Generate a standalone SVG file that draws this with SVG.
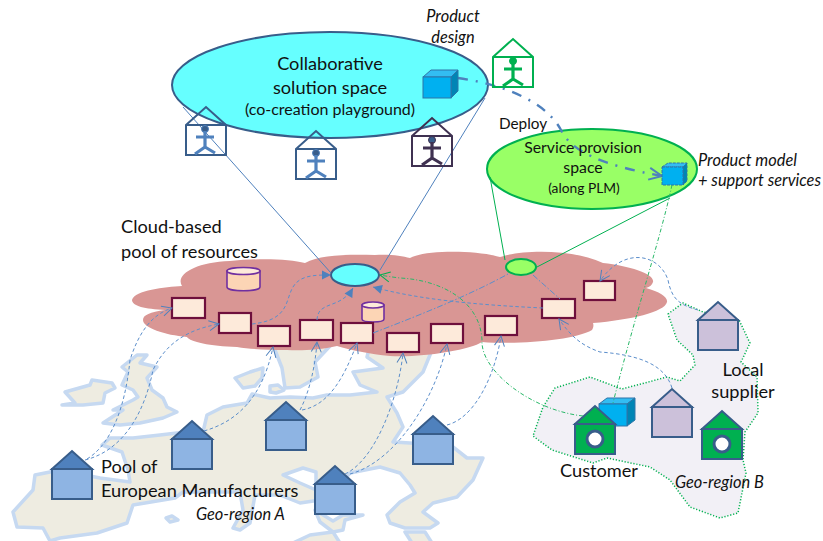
<svg xmlns="http://www.w3.org/2000/svg" width="823" height="541" viewBox="0 0 823 541">
<style>
text{font-family:Lato,"Open Sans","Liberation Sans",sans-serif;fill:#111}
.t18{font-size:18.2px}.t16{font-size:15.8px}.t15{font-size:15.3px}.t14{font-size:16px}.t13{font-size:13.8px}
.i{font-style:italic;font-size:16.4px}.m{text-anchor:middle}
.land{fill:#eeece1;stroke:#c6d9f1;stroke-width:3.5;stroke-linejoin:round}
.sea{fill:#fff;stroke:#c6d9f1;stroke-width:3.5;stroke-linejoin:round}
.res{fill:#fdeada;stroke:#6e0f3c;stroke-width:2.2}
.cyl{fill:#fcd5b5;stroke:#7030a0;stroke-width:1.6}
.cylt{fill:#fdeada;stroke:#7030a0;stroke-width:1.6}
.hb{stroke:#385d8a;stroke-width:2;stroke-linejoin:miter}
.fr{fill:#4f81bd}.fb{fill:#8eb4e3}.pb{fill:#ccc1da}.gb{fill:#00b050}
.ph{fill:none;stroke-width:2}
.pl{fill:none;stroke-width:3.2}
.c{fill:none}
.dash{stroke:#5b8ecb;stroke-width:1;stroke-dasharray:3.500 2.500}
.dd{stroke:#5b8ecb;stroke-width:1;stroke-dasharray:6 2 1.500 2}
.thin{stroke:#4f81bd;stroke-width:1}
.gl{stroke:#00b050;stroke-width:1}
.gd{stroke:#28b868;stroke-width:1;stroke-dasharray:4 2 1 2}
.dep{stroke:#4f81bd;stroke-width:2.400;stroke-dasharray:10 8 2 8}
</style>
<defs>
<marker id="o" markerUnits="userSpaceOnUse" markerWidth="14" markerHeight="14" refX="11" refY="7" orient="auto"><path d="M1,2 L11,7 L1,12" fill="none" stroke="#4f81bd" stroke-width="1"/></marker>
<marker id="f" markerUnits="userSpaceOnUse" markerWidth="12" markerHeight="12" refX="10" refY="6" orient="auto"><path d="M1,1.500 L10,6 L1,10.500Z" fill="#4f81bd"/></marker>
<marker id="g" markerUnits="userSpaceOnUse" markerWidth="14" markerHeight="14" refX="11" refY="7" orient="auto"><path d="M1,2 L11,7 L1,12" fill="none" stroke="#00b050" stroke-width="1"/></marker>
<marker id="d" markerUnits="userSpaceOnUse" markerWidth="18" markerHeight="18" refX="15" refY="9" orient="auto"><path d="M2,3 L15,9 L2,15" fill="none" stroke="#4f81bd" stroke-width="2"/></marker>
<g id="fh"><path class="hb fb" d="M-20,18H20V48H-20Z"/><path class="hb fr" d="M-20,18L0,0L20,18Z"/></g>
<g id="sh"><path class="hb pb" d="M-20,18H20V48H-20Z"/><path class="hb pb" d="M-20,18L0,0L20,18Z"/></g>
<g id="ch"><path class="hb gb" d="M-20,18H20V48H-20Z"/><path class="hb gb" d="M-20,18L0,0L20,18Z"/><circle cy="33" r="8" fill="#fff" stroke="#385d8a" stroke-width="3"/></g>
<g id="pers"><path class="ph" d="M-20,18L0,0L20,18V48H-20Z M-20,18H20"/></g>
<g id="fig"><circle cy="22" r="3.500"/><path class="pl" d="M-9,30H9M0,24V40L-10,47M0,40L10,46"/></g>
</defs>

<g id="map">
<path class="land" d="M35,475L60,470L100,478L130,482L128,470L122,452L102,445L110,438L133,438L160,435L177,433L203,432L207,415L223,407L247,403L252,394L270,398L290,397L313,398L327,395L350,395L377,392L360,385L353,372L383,368L367,357L370,345L432,350L423,372L403,392L387,397L397,413L403,427L393,442L410,443L453,447L467,458L483,458L473,480L457,497L433,503L423,512L438,523L430,528L405,528L390,523L387,515L400,502L415,493L410,485L400,473L380,467L350,473L335,490L320,500L300,503L280,495L255,495L250,523L240,530L233,528L243,510L240,492L183,492L175,498L133,505L127,523L97,533L60,538L50,541L43,528L17,527L13,512L33,490Z"/>
<path class="land" d="M137,355L147,355L140,363L157,367L147,378L152,390L163,398L167,407L177,412L163,418L140,423L120,425L103,423L123,410L113,410L133,400L138,397L133,390L122,385L128,372L122,367Z"/>
<path class="land" d="M62,405L75,403L65,392L90,385L92,380L112,383L115,388L105,393L103,403L83,405Z"/>
<path class="land" d="M273,345L282,368L285,388L300,387L318,377L315,362L330,346Z"/>
<path class="land" d="M235,378L250,372L263,368L262,378L255,386L243,388Z"/>
<path class="land" d="M270,386L278,385L284,390L276,393L270,392Z"/>
<path class="sea" d="M283,475L303,468L316,472L316,490L300,483Z"/>
<path class="land" d="M315,510L333,521L343,515L363,515L345,520L343,530L333,532L320,522Z"/>
<path class="land" d="M293,543L310,535L333,532L340,543Z"/>
<path class="land" d="M405,532L425,532L432,543H412Z"/>
<path class="land" d="M166,518L172,516L178,520L170,522Z" stroke-width="2.500"/>
</g>

<path id="region-b" fill="#f2f0f6" stroke="#00b050" stroke-width="1.500" stroke-dasharray="1.200 1.800" stroke-linejoin="round" d="M668,314L683,303L703,312L739,320L750,343L741,362L757,377L758,413L745,432L743,460L746,473L738,513L720,518L690,507L670,480L650,467L607,458L593,463L552,450L533,436L543,407L555,388L590,377L622,389L667,377L680,381L695,365L693,355L677,340Z"/>

<path id="cloud" fill="#d99694" d="M132,300C135,290 165,287 182,286C175,275 195,262 230,261C260,258 290,259 305,263C320,255 345,254 375,255C390,254 402,256 410,258C425,250 475,250 500,257C520,250 570,248 603,263C630,266 655,274 653,282C652,285 650,287 646,288C660,292 668,297 667,302C665,312 630,320 593,323C594,326 593,328 592,330C575,340 520,345 482,342C470,350 420,358 390,356C370,354 350,350 337,346C320,350 300,351 287,350C265,350 250,349 237,347C210,346 190,342 187,337C165,335 143,328 143,320C143,315 150,312 165,310C145,309 132,306 132,300Z"/>

<g id="big-ellipse"><ellipse cx="330" cy="85" rx="158" ry="53" fill="#66ffff" stroke="#385d8a" stroke-width="2"/></g>
<g id="green-ellipse"><ellipse cx="592" cy="169" rx="105" ry="40" fill="#99ff66" stroke="#00b050" stroke-width="2"/></g>
<g id="cyan-node"><ellipse cx="355" cy="275" rx="24" ry="11" fill="#66ffff" stroke="#385d8a" stroke-width="2"/></g>
<g id="lime-node"><ellipse cx="521" cy="267" rx="15" ry="8" fill="#99ff66" stroke="#00b050" stroke-width="2"/></g>

<g id="cyl1"><path class="cyl" d="M227,271V287C227,292 260,292 260,287V271Z"/><ellipse class="cylt" cx="243.500" cy="271" rx="16.500" ry="3.500"/></g>
<g id="cyl2"><path class="cyl" d="M362,305V319C362,323 384,323 384,319V305Z"/><ellipse class="cylt" cx="373" cy="305" rx="11" ry="3"/></g>

<g id="r1"><rect class="res" x="172" y="298" width="33" height="20"/></g>
<g id="r2"><rect class="res" x="219" y="313" width="32" height="20"/></g>
<g id="r3"><rect class="res" x="258" y="326" width="32" height="20"/></g>
<g id="r4"><rect class="res" x="300" y="320" width="33" height="20"/></g>
<g id="r5"><rect class="res" x="341" y="323" width="32" height="20"/></g>
<g id="r6"><rect class="res" x="387" y="333" width="32" height="19"/></g>
<g id="r7"><rect class="res" x="431" y="324" width="32" height="19"/></g>
<g id="r8"><rect class="res" x="485" y="316" width="32" height="19"/></g>
<g id="r9"><rect class="res" x="542" y="299" width="33" height="19"/></g>
<g id="r10"><rect class="res" x="584" y="281" width="31" height="19"/></g>

<g id="house-a1"><use href="#fh" x="72" y="451"/></g>
<g id="house-a2"><use href="#fh" x="192" y="421"/></g>
<g id="house-a3"><use href="#fh" x="286" y="402"/></g>
<g id="house-a4"><use href="#fh" x="335" y="466"/></g>
<g id="house-a5"><use href="#fh" x="433" y="416"/></g>
<g id="house-s1"><use href="#sh" x="718" y="302"/></g>
<g id="house-s2"><use href="#sh" x="672" y="389"/></g>

<g id="cube-customer"><path d="M599,404L607,398H635L627,404Z" fill="#33bdf2" stroke="#2e75a8"/><path d="M627,404L635,398V420L627,426Z" fill="#0085b5" stroke="#2e75a8"/><rect x="599" y="404" width="28" height="22" fill="#00b0f0" stroke="#2e75a8"/></g>
<g id="house-c1"><use href="#ch" x="595" y="406"/></g>
<g id="house-c2"><use href="#ch" x="722" y="411"/></g>

<g id="connectors" class="c">
<path class="thin" d="M183,107L331,273"/>
<path class="thin" d="M485,98L380,270"/>
<path class="gl" d="M490,177L505,260"/>
<path class="gl" d="M670,198L535,268"/>
<path class="gd" d="M672,185C660,240 635,315 613,403"/>
<path class="gd" d="M583,416C530,410 480,370 482,340C480,300 440,280 400,278C392,277 385,276 380,275" marker-end="url(#g)"/>
<path class="dep" d="M458,78C500,84 545,100 561,130C570,150 600,165 662,176" marker-end="url(#d)"/>
<path class="dash" d="M87,459C110,445 125,410 130,360C138,335 150,315 172,308" marker-end="url(#o)"/>
<path class="dash" d="M85,460C125,450 145,410 153,370C165,345 185,330 219,324" marker-end="url(#o)"/>
<path class="dash" d="M204,431C235,422 262,400 273,347" marker-end="url(#o)"/>
<path class="dash" d="M300,410C308,395 315,370 317,342" marker-end="url(#o)"/>
<path class="dash" d="M302,410C330,405 345,375 357,343" marker-end="url(#o)"/>
<path class="dash" d="M345,474C375,460 398,400 403,353" marker-end="url(#o)"/>
<path class="dash" d="M350,474C395,462 435,400 447,344" marker-end="url(#o)"/>
<path class="dash" d="M447,425C475,418 495,375 501,336" marker-end="url(#o)"/>
<path class="dash" d="M252,324C290,320 285,300 293,287C300,275 315,275 331,275" marker-end="url(#f)"/>
<path class="dash" d="M317,320C318,300 340,310 353,288" marker-end="url(#f)"/>
<path class="dash" d="M543,308C480,305 420,300 373,287" marker-end="url(#f)"/>
<path class="dd" d="M373,333C420,315 470,295 508,274"/>
<path class="dd" d="M533,275L560,299"/>
<path class="dash" d="M698,310C680,305 672,300 668,280C660,255 625,245 600,281" marker-end="url(#o)"/>
<path class="dash" d="M672,388C665,365 640,355 600,352C580,345 570,335 559,319" marker-end="url(#o)"/>
</g>

<g id="cube-top"><path d="M423,77L431,70H458L451,77Z" fill="#33bdf2" stroke="#2e75a8"/><path d="M451,77L458,70V91L451,98Z" fill="#0085b5" stroke="#2e75a8"/><rect x="423" y="77" width="28" height="21" fill="#00b0f0" stroke="#2e75a8"/></g>
<g id="cube-model"><path d="M662,167L668,163H687L683,167Z" fill="#33bdf2" stroke="#2e75a8" stroke-dasharray="3 1"/><path d="M683,167L687,163V181L683,185Z" fill="#0085b5" stroke="#2e75a8" stroke-dasharray="3 1"/><rect x="662" y="167" width="21" height="18" fill="#00b0f0" stroke="#2e75a8" stroke-dasharray="3 1"/></g>

<g id="person1"><use href="#pers" x="206" y="107" stroke="#385d8a"/><g transform="translate(205,107)" stroke="#4f81bd" fill="#385d8a"><use href="#fig"/></g></g>
<g id="person2"><use href="#pers" x="316" y="131" stroke="#385d8a"/><g transform="translate(316,131)" stroke="#4f81bd" fill="#385d8a"><use href="#fig"/></g></g>
<g id="person3"><use href="#pers" x="432" y="118" stroke="#3f3151"/><g transform="translate(432,118)" stroke="#3f3151" fill="#385d8a"><use href="#fig"/></g></g>
<g id="person4"><use href="#pers" x="513" y="39" stroke="#00b050"/><g transform="translate(513,39)" stroke="#00b050" fill="#00b050"><use href="#fig"/></g></g>

<g id="labels">
<text class="t18 m" x="330" y="70">Collaborative</text>
<text class="t18 m" x="330" y="94">solution space</text>
<text class="t14 m" x="330" y="115">(co-creation playground)</text>
<text class="i m" x="453" y="22">Product</text>
<text class="i m" x="453" y="43">design</text>
<text class="t15" x="499" y="129">Deploy</text>
<text class="t16 m" x="583" y="153">Service provision</text>
<text class="t16 m" x="583" y="173">space</text>
<text class="t13 m" x="584" y="193">(along PLM)</text>
<text class="i" x="698" y="166">Product model</text>
<text class="i" x="698" y="186">+ support services</text>
<text class="t18" x="121" y="233">Cloud-based</text>
<text class="t18" x="121" y="258">pool of resources</text>
<text class="t18" x="101" y="473">Pool of</text>
<text class="t18" x="101" y="497">European Manufacturers</text>
<text class="i" x="196" y="520">Geo-region A</text>
<text class="t18 m" x="743" y="376">Local</text>
<text class="t18 m" x="743" y="398">supplier</text>
<text class="t18" x="560" y="477">Customer</text>
<text class="i" x="675" y="488">Geo-region B</text>
</g>
</svg>
